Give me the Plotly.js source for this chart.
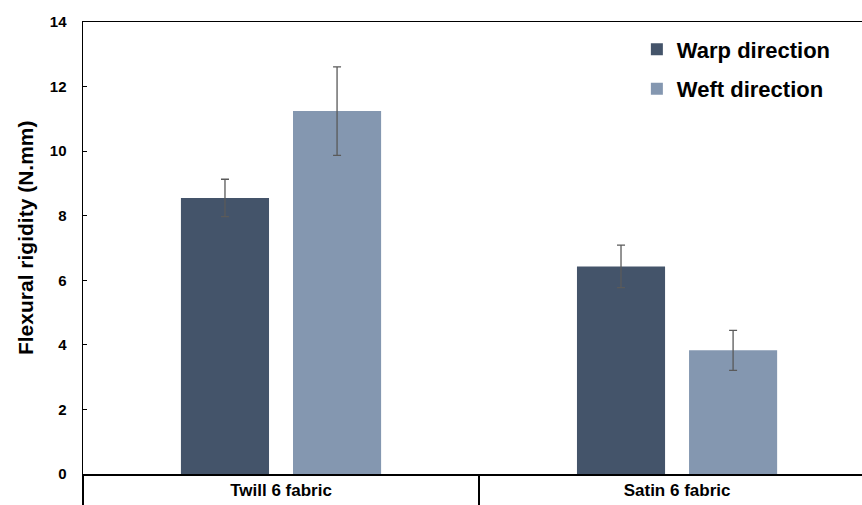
<!DOCTYPE html>
<html>
<head>
<meta charset="utf-8">
<script src="https://cdn.plot.ly/plotly-3.0.1.min.js"></script>
<style>html,body{margin:0;padding:0;background:#fff;overflow:hidden}#chart{width:862px;height:505px}</style>
</head>
<body>
<div id="chart"></div>
<script>
const categories = ["Twill 6 fabric", "Satin 6 fabric"];
const warpValues = [8.55, 6.43];
const warpErrors = [0.58, 0.66];
const weftValues = [11.24, 3.83];
const weftErrors = [1.37, 0.62];
const seriesNames = ["Warp direction", "Weft direction"];
const yTicks = [0, 2, 4, 6, 8, 10, 12, 14];
const yTitle = "Flexural rigidity (N.mm)";

const FONT = "Liberation Sans, Arial, sans-serif";

const traces = [
  {
    type: "bar", name: seriesNames[0], x: categories, y: warpValues,
    marker: {color: "#44546A"}, legendgroup: "a",
    error_y: {type: "data", array: warpErrors, visible: true, color: "#5a5a5a", thickness: 1.3, width: 4}
  },
  {
    type: "bar", name: seriesNames[1], x: categories, y: weftValues,
    marker: {color: "#8497B0"}, legendgroup: "b",
    error_y: {type: "data", array: weftErrors, visible: true, color: "#5a5a5a", thickness: 1.3, width: 4}
  }
];

const layout = {
  width: 862, height: 505,
  margin: {l: 83, r: 0, t: 22, b: 31, pad: 0},
  paper_bgcolor: "#fff", plot_bgcolor: "#fff",
  font: {family: FONT, color: "#000"},
  barmode: "group", bargap: 0.434, bargroupgap: 0.214,
  showlegend: true,
  legend: {
    x: 0.711, y: 0.986, xanchor: "left", yanchor: "top",
    font: {family: FONT, size: 22, color: "#000", weight: "bold"},
    tracegroupgap: 8, bgcolor: "rgba(0,0,0,0)"
  },
  xaxis: {
    type: "category", range: [-0.5, 1.467],
    showline: true, linecolor: "#000", linewidth: 1.5, mirror: true,
    ticks: "outside", tickson: "boundaries", ticklen: 31, tickcolor: "#000", tickwidth: 1.5,
    tickfont: {family: FONT, size: 17, color: "#000", weight: "bold"},
    showgrid: false, zeroline: false, fixedrange: true
  },
  yaxis: {
    range: [0, 14], tickvals: yTicks, ticktext: yTicks.map(String),
    showline: true, linecolor: "#000", linewidth: 1.5,
    ticks: "inside", ticklen: 4, tickcolor: "#000", tickwidth: 1,
    ticklabelstandoff: 12,
    tickfont: {family: FONT, size: 15, color: "#000", weight: "bold"},
    showgrid: false, zeroline: false, fixedrange: true
  },
  annotations: [{
    text: yTitle, textangle: -90, showarrow: false,
    xref: "paper", yref: "paper", x: 0, y: 0.522, xanchor: "center", yanchor: "middle",
    xshift: -58,
    font: {family: FONT, size: 21, color: "#000", weight: "bold"}
  }]
};

Plotly.newPlot("chart", traces, layout, {displayModeBar: false, staticPlot: true});
</script>
</body>
</html>
